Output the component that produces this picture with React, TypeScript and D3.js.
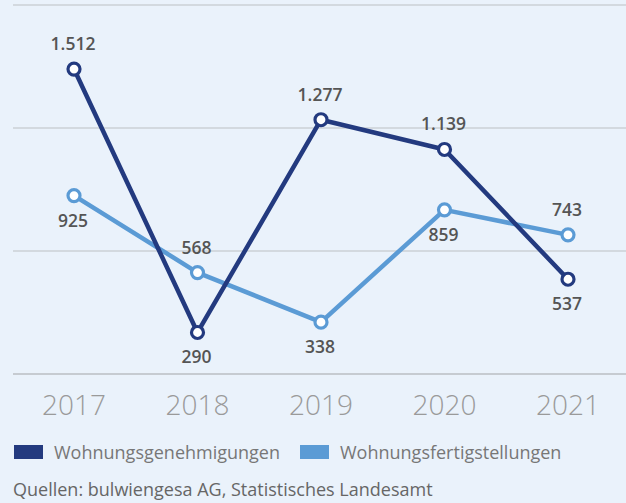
import React, { useEffect, useRef } from "react";
import * as d3 from "d3";

const years = ["2017", "2018", "2019", "2020", "2021"];
const genehmigungen = [1512, 290, 1277, 1139, 537];
const fertigstellungen = [925, 568, 338, 859, 743];
// label placement: 1 = above the point, -1 = below
const genPos = [1, -1, 1, 1, -1];
const fertPos = [-1, 1, -1, -1, 1];
const seriesNames = ["Wohnungsgenehmigungen", "Wohnungsfertigstellungen"];
const source = "Quellen: bulwiengesa AG, Statistisches Landesamt";

const W = 626, H = 503;
const darkBlue = "#233a7f";
const lightBlue = "#5b9bd5";
const font = "'Open Sans', sans-serif";

function fmt(v: number) {
    return d3.format(",")(v).replace(/,/g, ".");
}

export default function App() {
    const ref = useRef<SVGSVGElement>(null);

    useEffect(() => {
        const svg = d3.select(ref.current);
        svg.selectAll("*").remove();

        svg.append("rect").attr("width", W).attr("height", H).attr("fill", "#eaf2fb");

        const x = d3.scalePoint().domain(years).range([74, 568]);
        const y = d3.scaleLinear().domain([0, 1800]).range([395, 7]);

        // grid lines, evenly spaced
        const grid = d3.scaleLinear().domain([0, 3]).range([5, 374]);
        svg.selectAll(".grid").data(d3.range(4)).join("line")
            .attr("x1", 13).attr("x2", W)
            .attr("y1", d => grid(d)).attr("y2", d => grid(d))
            .attr("stroke", d => d === 3 ? "#c6cbd1" : "#bcbfc3")
            .attr("stroke-width", d => d === 3 ? 2 : 1.2);

        // x labels
        svg.selectAll(".yr").data(years).join("text")
            .attr("x", d => x(d)!).attr("y", 415)
            .attr("text-anchor", "middle")
            .attr("font-family", font).attr("font-weight", 300)
            .attr("font-size", 28).attr("fill", "#9a9a9a")
            .text(d => d);

        const series = [
            { values: fertigstellungen, color: lightBlue, pos: fertPos },
            { values: genehmigungen, color: darkBlue, pos: genPos },
        ];

        const line = d3.line<number>()
            .x((_, i) => x(years[i])!)
            .y(d => y(d));

        series.forEach(s => {
            svg.append("path").datum(s.values)
                .attr("d", line)
                .attr("fill", "none")
                .attr("stroke", s.color)
                .attr("stroke-width", 4.5)
                .attr("stroke-linejoin", "round");
        });

        series.forEach(s => {
            svg.append("g").selectAll("circle").data(s.values).join("circle")
                .attr("cx", (_, i) => x(years[i])!)
                .attr("cy", d => y(d))
                .attr("r", 6)
                .attr("fill", "#fff")
                .attr("stroke", s.color)
                .attr("stroke-width", 3.2);

            svg.append("g").selectAll("text").data(s.values).join("text")
                .attr("x", (_, i) => x(years[i])! - 1)
                .attr("y", (d, i) => y(d) + (s.pos[i] > 0 ? -19 : 31))
                .attr("text-anchor", "middle")
                .attr("font-family", font).attr("font-weight", 600)
                .attr("font-size", 17.5).attr("fill", "#555")
                .text(d => fmt(d));
        });

        // legend
        const legendX = [14, 300];
        const colors = [darkBlue, lightBlue];
        seriesNames.forEach((name, i) => {
            svg.append("rect")
                .attr("x", legendX[i]).attr("y", 445)
                .attr("width", 29).attr("height", 14)
                .attr("fill", colors[i]);
            svg.append("text")
                .attr("x", legendX[i] + 40).attr("y", 459)
                .attr("font-family", font).attr("font-size", 18)
                .attr("fill", "#777")
                .text(name);
        });

        svg.append("text")
            .attr("x", 13).attr("y", 496)
            .attr("font-family", font).attr("font-size", 18)
            .attr("fill", "#666")
            .text(source);
    }, []);

    return (
        <svg ref={ref} width={W} height={H}
            style={{ position: "fixed", top: 0, left: 0, display: "block" }} />
    );
}
